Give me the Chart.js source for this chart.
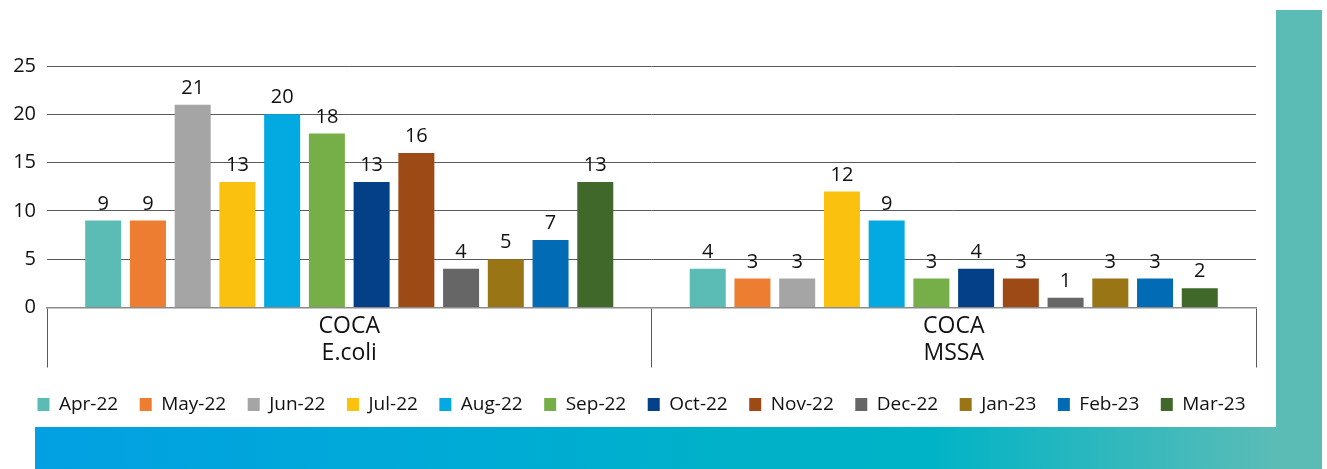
<!DOCTYPE html>
<html>
<head>
<meta charset="utf-8">
<script src="https://cdn.jsdelivr.net/npm/chart.js@4/dist/chart.umd.min.js"></script>
<style>
  html, body { margin: 0; padding: 0; background: #fff; }
  body { width: 1327px; height: 469px; position: relative; overflow: hidden; }
  #wrap { position: absolute; left: 0; top: 0; width: 1283px; height: 424px; }
  #teal { position: absolute; left: 1276px; top: 10px; width: 46px; height: 459px; background: #5BBCB6; z-index: 2; }
  #band { position: absolute; left: 35px; top: 427px; width: 1241px; height: 42px; z-index: 2;
          background: linear-gradient(to right, #02A0E2 0%, #00ABD6 35%, #00B1C9 55%, #00B3C6 72%, #5BBCB6 100%); }
</style>
</head>
<body>
<div id="wrap"><canvas id="c"></canvas></div>
<div id="teal"></div>
<div id="band"></div>
<script>
const categories = [["COCA", "E.coli"], ["COCA", "MSSA"]];
const months = ["Apr-22", "May-22", "Jun-22", "Jul-22", "Aug-22", "Sep-22", "Oct-22", "Nov-22", "Dec-22", "Jan-23", "Feb-23", "Mar-23"];
const ecoliValues = [9, 9, 21, 13, 20, 18, 13, 16, 4, 5, 7, 13];
const mssaValues = [4, 3, 3, 12, 9, 3, 4, 3, 1, 3, 3, 2];
const yTicks = [0, 5, 10, 15, 20, 25];
const colors = ["#5BBCB6", "#ED7D31", "#A5A5A5", "#FBC10F", "#03A9E1", "#76AE47", "#034087", "#9E4A17", "#666666", "#997515", "#026BB5", "#41682B"];

const FONT = "'Open Sans', 'Noto Sans', sans-serif";

const datasets = months.map((m, i) => ({
  label: m,
  data: [ecoliValues[i], mssaValues[i]],
  backgroundColor: colors[i],
  borderWidth: 0,
  categoryPercentage: 0.888,
  barPercentage: 0.805
}));

const valueLabels = {
  id: 'valueLabels',
  afterDatasetsDraw(chart) {
    const ctx = chart.ctx;
    ctx.save();
    ctx.font = "20px " + FONT;
    ctx.fillStyle = "#111";
    ctx.textAlign = "center";
    ctx.textBaseline = "alphabetic";
    chart.data.datasets.forEach((ds, di) => {
      const meta = chart.getDatasetMeta(di);
      meta.data.forEach((el, j) => {
        ctx.fillText(String(ds.data[j]), el.x, el.y - 11);
      });
    });
    ctx.restore();
  }
};

new Chart(document.getElementById('c'), {
  type: 'bar',
  data: { labels: categories, datasets },
  plugins: [valueLabels],
  options: {
    responsive: true,
    maintainAspectRatio: false,
    animation: false,
    layout: { padding: { top: 66, right: 0, left: 0, bottom: 0 } },
    plugins: {
      tooltip: { enabled: false },
      legend: {
        position: 'bottom',
        labels: {
          boxWidth: 12, boxHeight: 13, padding: 21.5,
          color: '#111',
          font: { family: FONT, size: 19 }
        }
      }
    },
    scales: {
      x: {
        grid: { offset: true, drawOnChartArea: false, drawTicks: true, tickLength: 60, color: '#595959', lineWidth: 1 },
        border: { display: true, color: '#8c8c8c', width: 1.5 },
        ticks: { padding: -55, color: '#111', font: { family: FONT, size: 23, lineHeight: 1.2 } },
        afterFit(s) { s.height = 66; }
      },
      y: {
        min: 0, max: 25,
        afterBuildTicks(s) { s.ticks = yTicks.map(v => ({ value: v })); },
        grid: { color: '#5a5a5a', lineWidth: 1, drawTicks: false },
        border: { display: false },
        ticks: { padding: 11, color: '#111', font: { family: FONT, size: 20 } },
        afterFit(s) { s.width = 47; }
      },
      yRight: {
        position: 'right',
        min: 0, max: 25,
        grid: { display: false },
        border: { display: false },
        ticks: { display: false },
        afterFit(s) { s.width = 27; }
      }
    }
  }
});
</script>
</body>
</html>
